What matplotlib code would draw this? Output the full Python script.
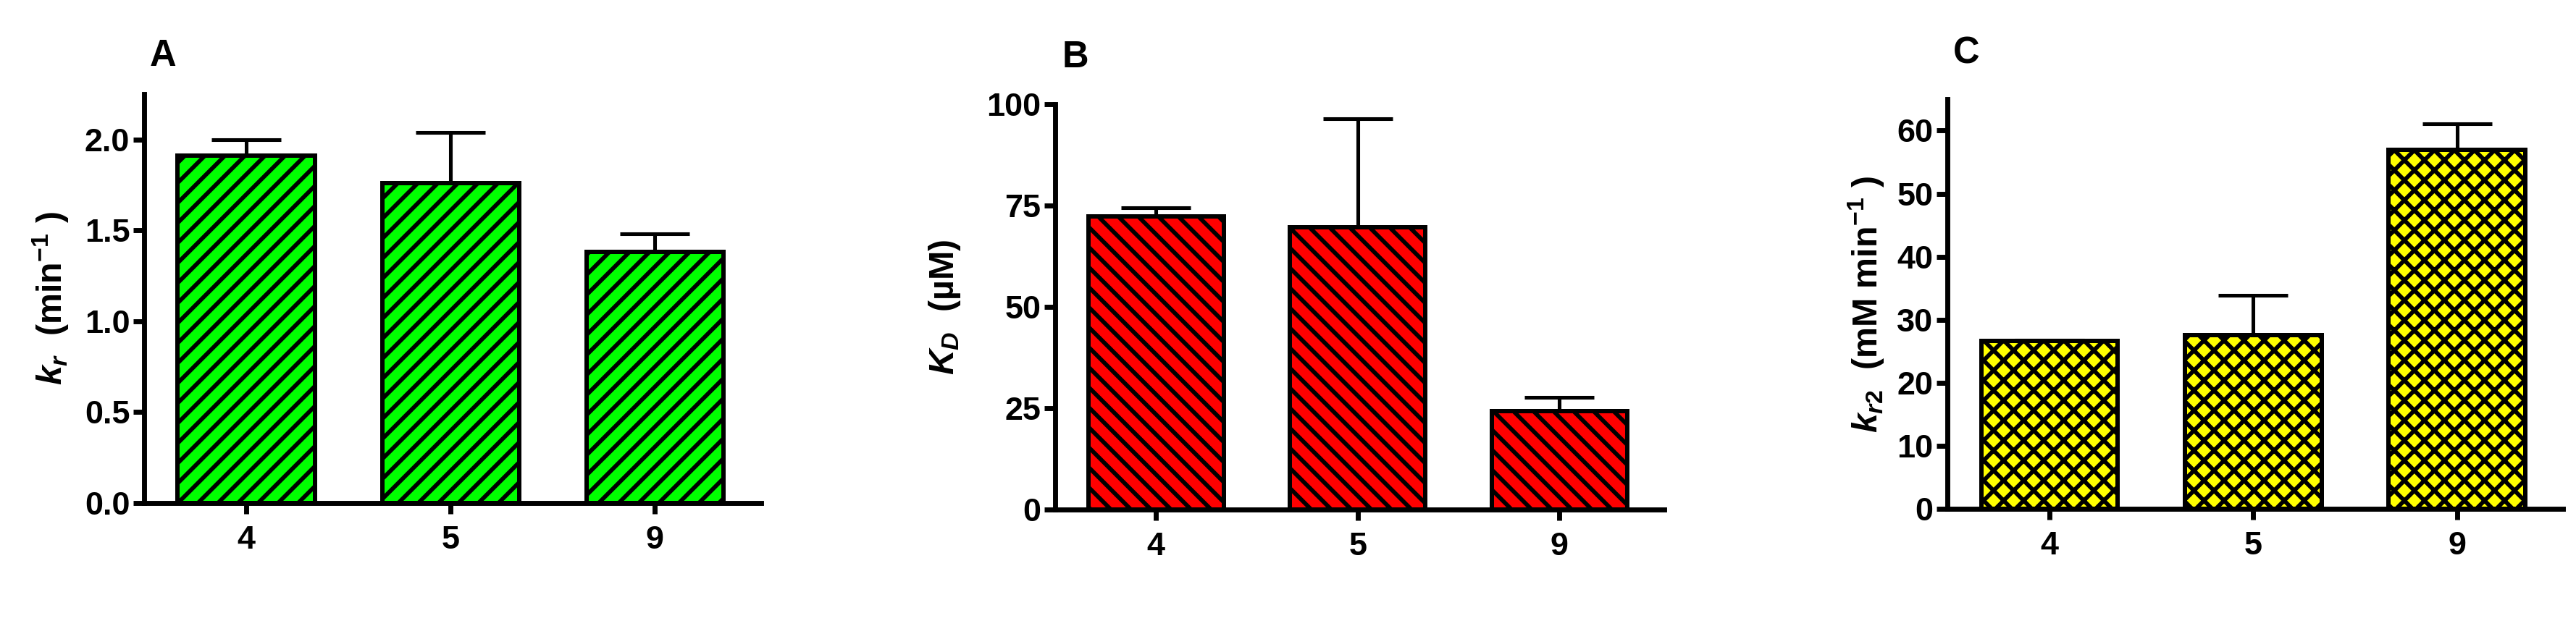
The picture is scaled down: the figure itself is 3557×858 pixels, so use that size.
import numpy as np
import matplotlib
matplotlib.use('Agg')
import matplotlib.pyplot as plt

# --- data ---
compounds = ['4', '5', '9']

kr_mean = [1.91, 1.76, 1.38]
kr_err = [0.09, 0.28, 0.10]

kd_mean = [72.3, 69.7, 24.3]
kd_err = [2.2, 26.8, 3.4]

kr2_mean = [26.6, 27.5, 57.0]
kr2_err = [0.2, 6.4, 4.1]

# --- style ---
plt.rcParams['font.family'] = ['Liberation Sans', 'DejaVu Sans']
plt.rcParams['font.weight'] = 'bold'
plt.rcParams['axes.labelweight'] = 'bold'
plt.rcParams['mathtext.fontset'] = 'custom'
plt.rcParams['mathtext.rm'] = 'Liberation Sans:bold'
plt.rcParams['mathtext.it'] = 'Liberation Sans:bold:italic'
plt.rcParams['mathtext.bf'] = 'Liberation Sans:bold'
plt.rcParams['hatch.color'] = 'black'
plt.rcParams['hatch.linewidth'] = 2.5

DPI = 166
fig = plt.figure(figsize=(3558 / DPI, 858 / DPI), dpi=DPI)

panels = [
    # rect, means, errs, ylim, yticks, ticklabels, color, hatch, ylabel, label x, letter, letter pos
    ([0.0559, 0.19, 0.2395, 0.6585], kr_mean, kr_err, 2.25, np.arange(0, 2.01, 0.5),
     ['0.0', '0.5', '1.0', '1.5', '2.0'], '#00ff00', '//',
     r'$k_r$  (min$^{-1}$ )', -0.151, 'A', (0.0632, 0.910)),
    ([0.4095, 0.1795, 0.2364, 0.6527], kd_mean, kd_err, 100, [0, 25, 50, 75, 100],
     ['0', '25', '50', '75', '100'], '#ff0000', '\\\\',
     r'$K_D$  (µM)', -0.181, 'B', (0.4174, 0.907)),
    ([0.7558, 0.1807, 0.2389, 0.6597], kr2_mean, kr2_err, 65, [0, 10, 20, 30, 40, 50, 60],
     ['0', '10', '20', '30', '40', '50', '60'], '#ffff00', 'xx',
     r'$k_{r2}$  (mM min$^{-1}$ )', -0.132, 'C', (0.7631, 0.914)),
]

x = np.arange(len(compounds))
for rect, means, errs, ytop, yt, ytl, col, hat, ylab, lx, letter, lpos in panels:
    ax = fig.add_axes(rect)
    ax.bar(x, means, width=0.67, color=col, edgecolor='black', linewidth=2.6,
           hatch=hat, zorder=2)
    ax.errorbar(x, means, yerr=[np.zeros(len(errs)), errs], fmt='none',
                ecolor='black', elinewidth=2.2, capsize=21, capthick=2.2, zorder=1)
    ax.set_xlim(-0.5, 2.52)
    ax.set_ylim(0, ytop)
    ax.set_xticks(x)
    ax.set_xticklabels(compounds)
    ax.set_yticks(yt)
    ax.set_yticklabels(ytl)
    for s in ['top', 'right']:
        ax.spines[s].set_visible(False)
    for s in ['left', 'bottom']:
        ax.spines[s].set_linewidth(3)
    ax.tick_params(axis='both', length=6.5, width=3, labelsize=19.5)
    ax.tick_params(axis='y', pad=2)
    ax.tick_params(axis='x', pad=7)
    ax.set_ylabel(ylab, fontsize=21, fontweight='bold')
    ax.yaxis.label.set_va('center')
    ax.yaxis.set_label_coords(lx, 0.5)
    fig.text(lpos[0], lpos[1], letter, fontsize=22, fontweight='bold',
             ha='center', va='center')

fig.savefig('out.png', dpi=DPI)
